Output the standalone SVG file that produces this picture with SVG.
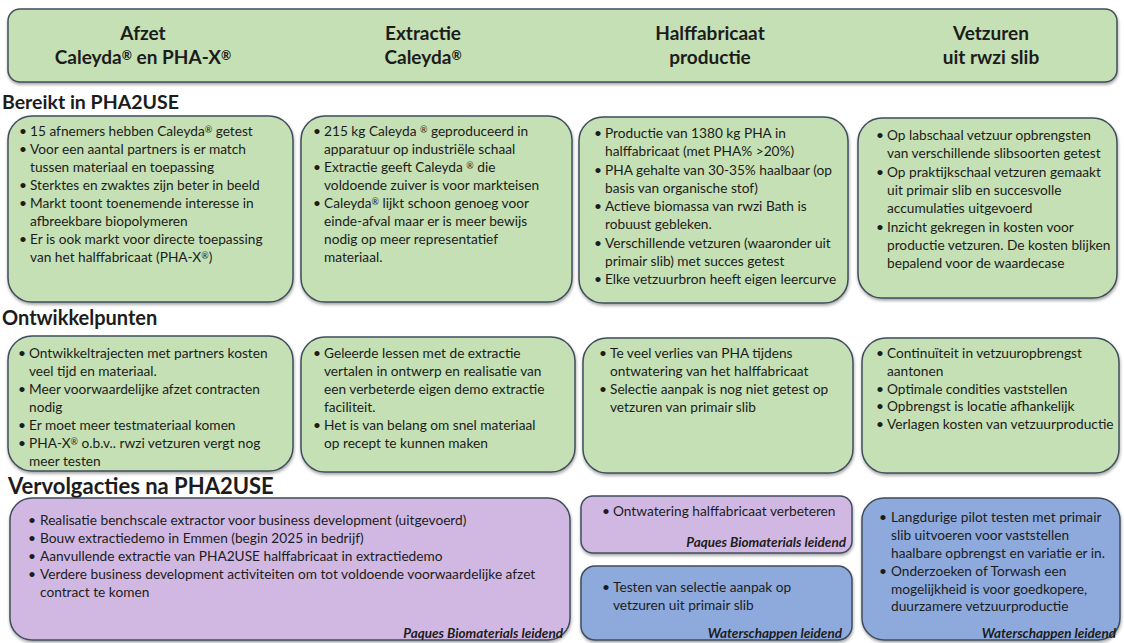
<svg xmlns="http://www.w3.org/2000/svg" width="1124" height="643" viewBox="0 0 1124 643">
<style>
.g{fill:#c5e0b4;stroke:#3f4d5c;stroke-width:1.5}
.p{fill:#d1b8e3;stroke:#3f4d5c;stroke-width:1.5}
.b{fill:#8eaadc;stroke:#3f4d5c;stroke-width:1.5}
text{font-family:Lato,"Liberation Sans",sans-serif;fill:#1c1c1c}
.h{font-size:19px;font-weight:bold;text-anchor:middle}
.s{font-size:19.5px;font-weight:bold}
.t{font-size:13.7px}
.l{font-size:13.5px;font-weight:bold;font-style:italic;text-anchor:end}
.r{font-size:65%;baseline-shift:35%}
</style>
<defs>
<filter id="sh" x="-5%" y="-5%" width="110%" height="115%">
<feDropShadow dx="0.5" dy="2" stdDeviation="1.5" flood-color="#000" flood-opacity="0.35"/>
</filter>
</defs>
<rect width="1124" height="643" fill="#fff"/>

<g id="header">
<rect class="g" x="8" y="9" width="1109" height="73" rx="12" filter="url(#sh)"/>
<text class="h" x="143" y="40">Afzet</text>
<text class="h" x="143" y="64">Caleyda<tspan class="r">®</tspan> en PHA-X<tspan class="r">®</tspan></text>
<text class="h" x="423" y="40">Extractie</text>
<text class="h" x="423" y="64">Caleyda<tspan class="r">®</tspan></text>
<text class="h" x="710" y="40">Halffabricaat</text>
<text class="h" x="710" y="64">productie</text>
<text class="h" x="991" y="40">Vetzuren</text>
<text class="h" x="991" y="64">uit rwzi slib</text>
</g>

<text class="s" x="2" y="109">Bereikt in PHA2USE</text>
<text class="s" x="2" y="325" style="font-size:20px">Ontwikkelpunten</text>
<text class="s" x="8" y="494" style="font-size:22px">Vervolgacties na PHA2USE</text>

<g id="b1">
<rect class="g" x="8" y="116" width="285" height="186" rx="24" filter="url(#sh)"/>
<text class="t"><tspan x="19" y="136">•</tspan><tspan x="30" y="136">15 afnemers hebben Caleyda<tspan class="r">®</tspan> getest</tspan>
<tspan x="19" y="154">•</tspan><tspan x="30" y="154">Voor een aantal partners is er match</tspan>
<tspan x="30" y="172">tussen materiaal en toepassing</tspan>
<tspan x="19" y="190">•</tspan><tspan x="30" y="190">Sterktes en zwaktes zijn beter in beeld</tspan>
<tspan x="19" y="208">•</tspan><tspan x="30" y="208">Markt toont toenemende interesse in</tspan>
<tspan x="30" y="226">afbreekbare biopolymeren</tspan>
<tspan x="19" y="244">•</tspan><tspan x="30" y="244">Er is ook markt voor directe toepassing</tspan>
<tspan x="30" y="262">van het halffabricaat (PHA-X<tspan class="r">®</tspan>)</tspan></text>
</g>

<g id="b2">
<rect class="g" x="301" y="116" width="271" height="186" rx="24" filter="url(#sh)"/>
<text class="t"><tspan x="313" y="136">•</tspan><tspan x="324" y="136">215 kg Caleyda <tspan class="r">®</tspan> geproduceerd in</tspan>
<tspan x="324" y="154">apparatuur op industriële schaal</tspan>
<tspan x="313" y="172">•</tspan><tspan x="324" y="172">Extractie geeft Caleyda <tspan class="r">®</tspan> die</tspan>
<tspan x="324" y="190">voldoende zuiver is voor markteisen</tspan>
<tspan x="313" y="208">•</tspan><tspan x="324" y="208">Caleyda<tspan class="r">®</tspan> lijkt schoon genoeg voor</tspan>
<tspan x="324" y="226">einde-afval maar er is meer bewijs</tspan>
<tspan x="324" y="244">nodig op meer representatief</tspan>
<tspan x="324" y="262">materiaal.</tspan></text>
</g>

<g id="b3">
<rect class="g" x="579" y="117" width="269" height="186" rx="24" filter="url(#sh)"/>
<text class="t"><tspan x="594" y="138">•</tspan><tspan x="605" y="138">Productie van 1380 kg PHA in</tspan>
<tspan x="605" y="156">halffabricaat (met PHA% &gt;20%)</tspan>
<tspan x="594" y="175">•</tspan><tspan x="605" y="175">PHA gehalte van 30-35% haalbaar (op</tspan>
<tspan x="605" y="193">basis van organische stof)</tspan>
<tspan x="594" y="211">•</tspan><tspan x="605" y="211">Actieve biomassa van rwzi Bath is</tspan>
<tspan x="605" y="229">robuust gebleken.</tspan>
<tspan x="594" y="248">•</tspan><tspan x="605" y="248">Verschillende vetzuren (waaronder uit</tspan>
<tspan x="605" y="266">primair slib) met succes getest</tspan>
<tspan x="594" y="284">•</tspan><tspan x="605" y="284">Elke vetzuurbron heeft eigen leercurve</tspan></text>
</g>

<g id="b4">
<rect class="g" x="858" y="118" width="259" height="180" rx="24" filter="url(#sh)"/>
<text class="t"><tspan x="876" y="140">•</tspan><tspan x="887" y="140">Op labschaal vetzuur opbrengsten</tspan>
<tspan x="887" y="158">van verschillende slibsoorten getest</tspan>
<tspan x="876" y="177">•</tspan><tspan x="887" y="177">Op praktijkschaal vetzuren gemaakt</tspan>
<tspan x="887" y="195">uit primair slib en succesvolle</tspan>
<tspan x="887" y="213">accumulaties uitgevoerd</tspan>
<tspan x="876" y="232">•</tspan><tspan x="887" y="232">Inzicht gekregen in kosten voor</tspan>
<tspan x="887" y="250">productie vetzuren. De kosten blijken</tspan>
<tspan x="887" y="268">bepalend voor de waardecase</tspan></text>
</g>

<g id="o1">
<rect class="g" x="8" y="336" width="285" height="135" rx="24" filter="url(#sh)"/>
<text class="t"><tspan x="18" y="358">•</tspan><tspan x="29" y="358">Ontwikkeltrajecten met partners kosten</tspan>
<tspan x="29" y="376">veel tijd en materiaal.</tspan>
<tspan x="18" y="394">•</tspan><tspan x="29" y="394">Meer voorwaardelijke afzet contracten</tspan>
<tspan x="29" y="412">nodig</tspan>
<tspan x="18" y="430">•</tspan><tspan x="29" y="430">Er moet meer testmateriaal komen</tspan>
<tspan x="18" y="448">•</tspan><tspan x="29" y="448">PHA-X<tspan class="r">®</tspan> o.b.v.. rwzi vetzuren vergt nog</tspan>
<tspan x="29" y="466">meer testen</tspan></text>
</g>

<g id="o2">
<rect class="g" x="301" y="337" width="274" height="135" rx="24" filter="url(#sh)"/>
<text class="t"><tspan x="313" y="358">•</tspan><tspan x="324" y="358">Geleerde lessen met de extractie</tspan>
<tspan x="324" y="376">vertalen in ontwerp en realisatie van</tspan>
<tspan x="324" y="394">een verbeterde eigen demo extractie</tspan>
<tspan x="324" y="412">faciliteit.</tspan>
<tspan x="313" y="430">•</tspan><tspan x="324" y="430">Het is van belang om snel materiaal</tspan>
<tspan x="324" y="448">op recept te kunnen maken</tspan></text>
</g>

<g id="o3">
<rect class="g" x="583" y="338" width="270" height="135" rx="24" filter="url(#sh)"/>
<text class="t"><tspan x="599" y="358">•</tspan><tspan x="610" y="358">Te veel verlies van PHA tijdens</tspan>
<tspan x="610" y="376">ontwatering van het halffabricaat</tspan>
<tspan x="599" y="394">•</tspan><tspan x="610" y="394">Selectie aanpak is nog niet getest op</tspan>
<tspan x="610" y="412">vetzuren van primair slib</tspan></text>
</g>

<g id="o4">
<rect class="g" x="862" y="338" width="257" height="135" rx="24" filter="url(#sh)"/>
<text class="t"><tspan x="876" y="358">•</tspan><tspan x="887" y="358">Continuïteit in vetzuuropbrengst</tspan>
<tspan x="887" y="376">aantonen</tspan>
<tspan x="876" y="394">•</tspan><tspan x="887" y="394">Optimale condities vaststellen</tspan>
<tspan x="876" y="411">•</tspan><tspan x="887" y="411">Opbrengst is locatie afhankelijk</tspan>
<tspan x="876" y="429">•</tspan><tspan x="887" y="429">Verlagen kosten van vetzuurproductie</tspan></text>
</g>

<g id="v1">
<rect class="p" x="10" y="498" width="560" height="142" rx="22" filter="url(#sh)"/>
<text class="t"><tspan x="28" y="525">•</tspan><tspan x="40" y="525">Realisatie benchscale extractor voor business development (uitgevoerd)</tspan>
<tspan x="28" y="543">•</tspan><tspan x="40" y="543">Bouw extractiedemo in Emmen (begin 2025 in bedrijf)</tspan>
<tspan x="28" y="561">•</tspan><tspan x="40" y="561">Aanvullende extractie van PHA2USE halffabricaat in extractiedemo</tspan>
<tspan x="28" y="579">•</tspan><tspan x="40" y="579">Verdere business development activiteiten om tot voldoende voorwaardelijke afzet</tspan>
<tspan x="40" y="597">contract te komen</tspan></text>
<text class="l" x="563" y="638">Paques Biomaterials leidend</text>
</g>

<g id="v2">
<rect class="p" x="581" y="496" width="271" height="57" rx="12" filter="url(#sh)"/>
<text class="t"><tspan x="602" y="516">•</tspan><tspan x="613" y="516">Ontwatering halffabricaat verbeteren</tspan></text>
<text class="l" x="846" y="547">Paques Biomaterials leidend</text>
</g>

<g id="v3">
<rect class="b" x="581" y="566" width="271" height="74" rx="14" filter="url(#sh)"/>
<text class="t"><tspan x="602" y="592">•</tspan><tspan x="613" y="592">Testen van selectie aanpak op</tspan>
<tspan x="613" y="610">vetzuren uit primair slib</tspan></text>
<text class="l" x="842" y="638">Waterschappen leidend</text>
</g>

<g id="v4">
<rect class="b" x="862" y="498" width="258" height="142" rx="22" filter="url(#sh)"/>
<text class="t"><tspan x="879" y="522">•</tspan><tspan x="891" y="522">Langdurige pilot testen met primair</tspan>
<tspan x="891" y="540">slib uitvoeren voor vaststellen</tspan>
<tspan x="891" y="558">haalbare opbrengst en variatie er in.</tspan>
<tspan x="879" y="576">•</tspan><tspan x="891" y="576">Onderzoeken of Torwash een</tspan>
<tspan x="891" y="594">mogelijkheid is voor goedkopere,</tspan>
<tspan x="891" y="611">duurzamere vetzuurproductie</tspan></text>
<text class="l" x="1116" y="638">Waterschappen leidend</text>
</g>
</svg>
